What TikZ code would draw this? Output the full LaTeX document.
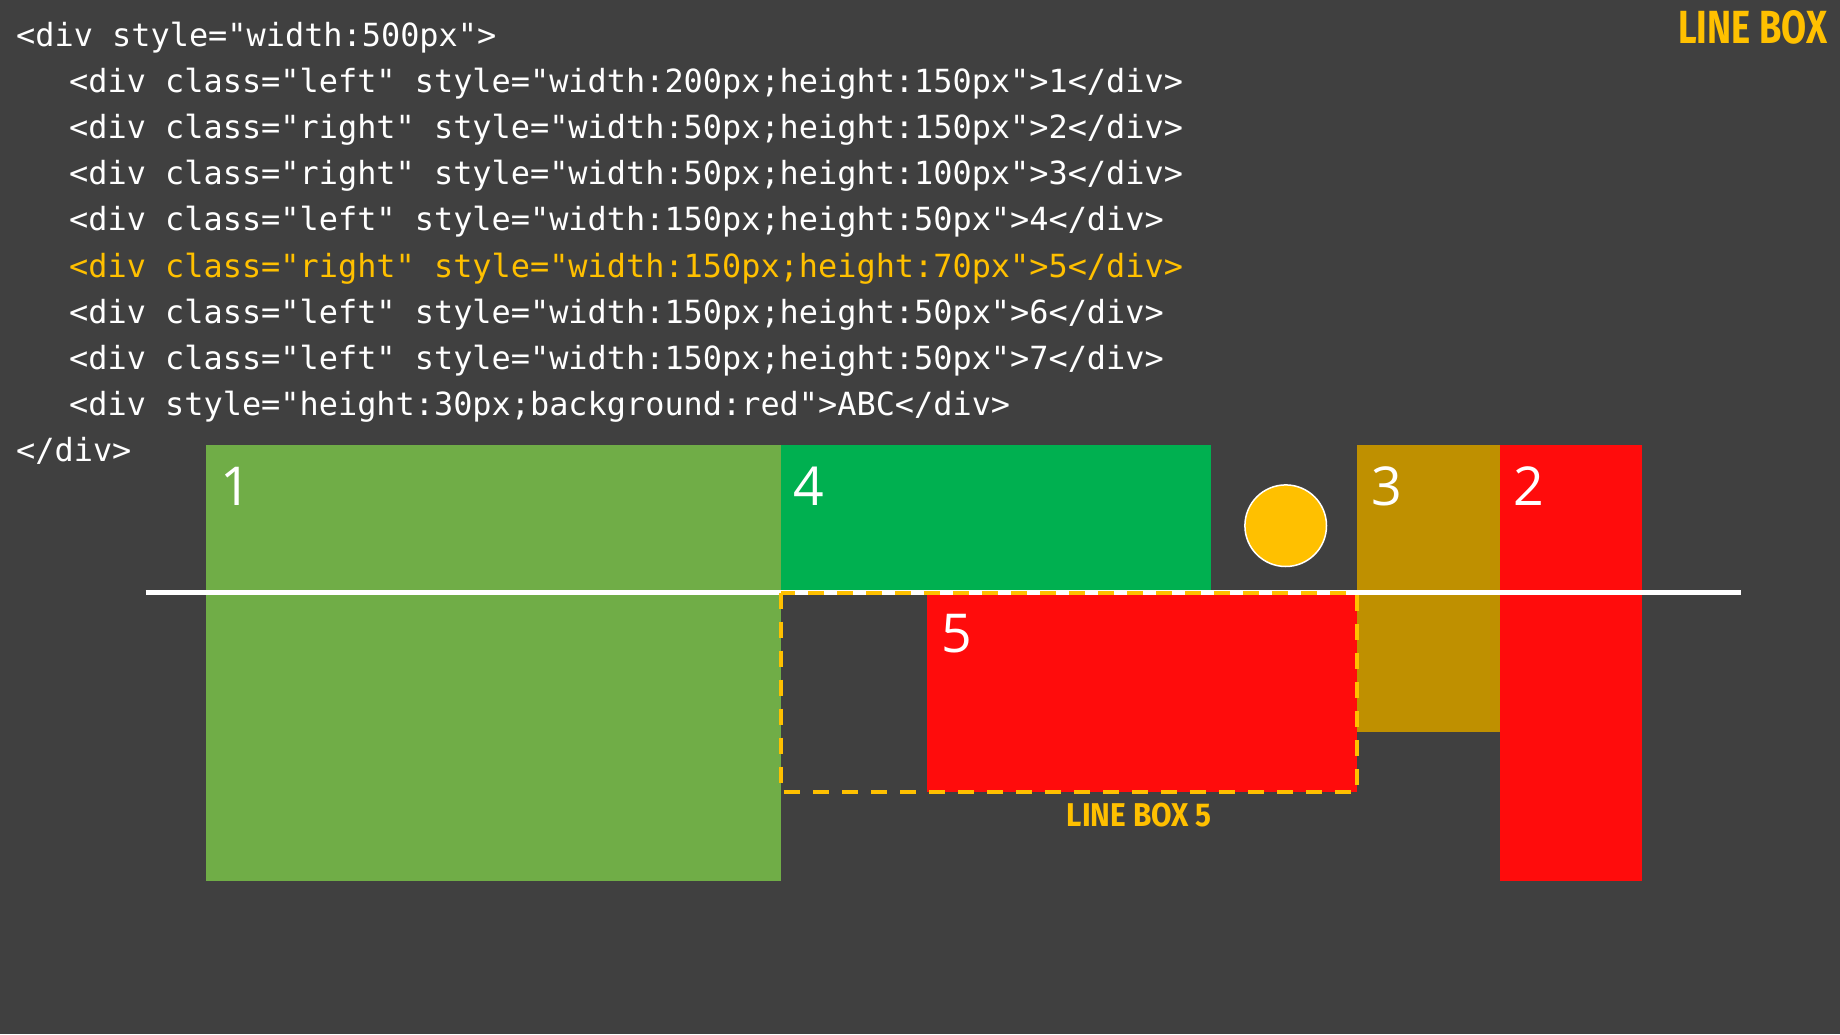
\documentclass[tikz,border=0pt]{standalone}
\usepackage{fontspec}
\usepackage{graphicx}
\newfontfamily\codefont{DejaVu Sans Mono}
\newfontfamily\numfont{Open Sans}
\newfontfamily\markfont{Fira Sans}
\definecolor{bg}{HTML}{404040}
\definecolor{boxone}{HTML}{70AD47}
\definecolor{boxfour}{HTML}{00B050}
\definecolor{boxthree}{HTML}{BF9000}
\definecolor{boxred}{HTML}{FF0C0C}
\definecolor{amber}{HTML}{FFC000}
\tikzset{
  codeline/.style={anchor=base west, inner sep=0pt, text=white, font=\codefont\fontsize{31.9}{38}\selectfont},
  numlabel/.style={anchor=base west, inner sep=0pt, text=white, font=\numfont\fontsize{53.6}{60}\selectfont},
  marklabel/.style={anchor=base west, inner sep=0pt, text=amber, font=\markfont\bfseries},
}
\begin{document}
\begin{tikzpicture}[x=1pt,y=-1pt]
\useasboundingbox (0,0) rectangle (1840,1034);
\fill[bg] (0,0) rectangle (1840,1034);
% code
\node[codeline] (c1) at (16,46) {<div style="width:500px">};
\node[codeline] (c2) at (69,92.2) {<div class="left" style="width:200px;height:150px">1</div>};
\node[codeline] (c3) at (69,138.4) {<div class="right" style="width:50px;height:150px">2</div>};
\node[codeline] (c4) at (69,184.6) {<div class="right" style="width:50px;height:100px">3</div>};
\node[codeline] (c5) at (69,230.8) {<div class="left" style="width:150px;height:50px">4</div>};
\node[codeline, text=amber] (c6) at (69,277) {<div class="right" style="width:150px;height:70px">5</div>};
\node[codeline] (c7) at (69,323.2) {<div class="left" style="width:150px;height:50px">6</div>};
\node[codeline] (c8) at (69,369.4) {<div class="left" style="width:150px;height:50px">7</div>};
\node[codeline] (c9) at (69,415.6) {<div style="height:30px;background:red">ABC</div>};
\node[codeline] (c10) at (16,461.8) {</div>};
% boxes
\fill[boxone] (206,445) rectangle (780.5,881);
\fill[boxfour] (780.5,445) rectangle (1211,591);
\fill[boxthree] (1357,445) rectangle (1500,732);
\fill[boxred] (1500,445) rectangle (1642,881);
\fill[boxred] (927,593) rectangle (1357,792);
\filldraw[fill=amber, draw=white, line width=1.5pt] (1285.7,525.7) circle (40.8);
% baseline
\draw[white, line width=4.5pt] (145.5,592.7) -- (1741,592.7);
% line box 5
\draw[amber, line width=4pt, dash pattern=on 16pt off 13pt] (780.5,592.7) rectangle (1357,792);
% labels
\node[numlabel] (n1) at (220,505) {1};
\node[numlabel] (n4) at (793,505) {4};
\node[numlabel] (n3) at (1371,505) {3};
\node[numlabel] (n2) at (1513,505) {2};
\node[numlabel] (n5) at (941,652) {5};
\node[marklabel] (lb5) at (1066.7,826.7) {\resizebox{145pt}{23.4pt}{LINE BOX 5}};
\node[marklabel] (lb) at (1678,43) {\resizebox{149pt}{33pt}{LINE BOX}};
\end{tikzpicture}
\end{document}
